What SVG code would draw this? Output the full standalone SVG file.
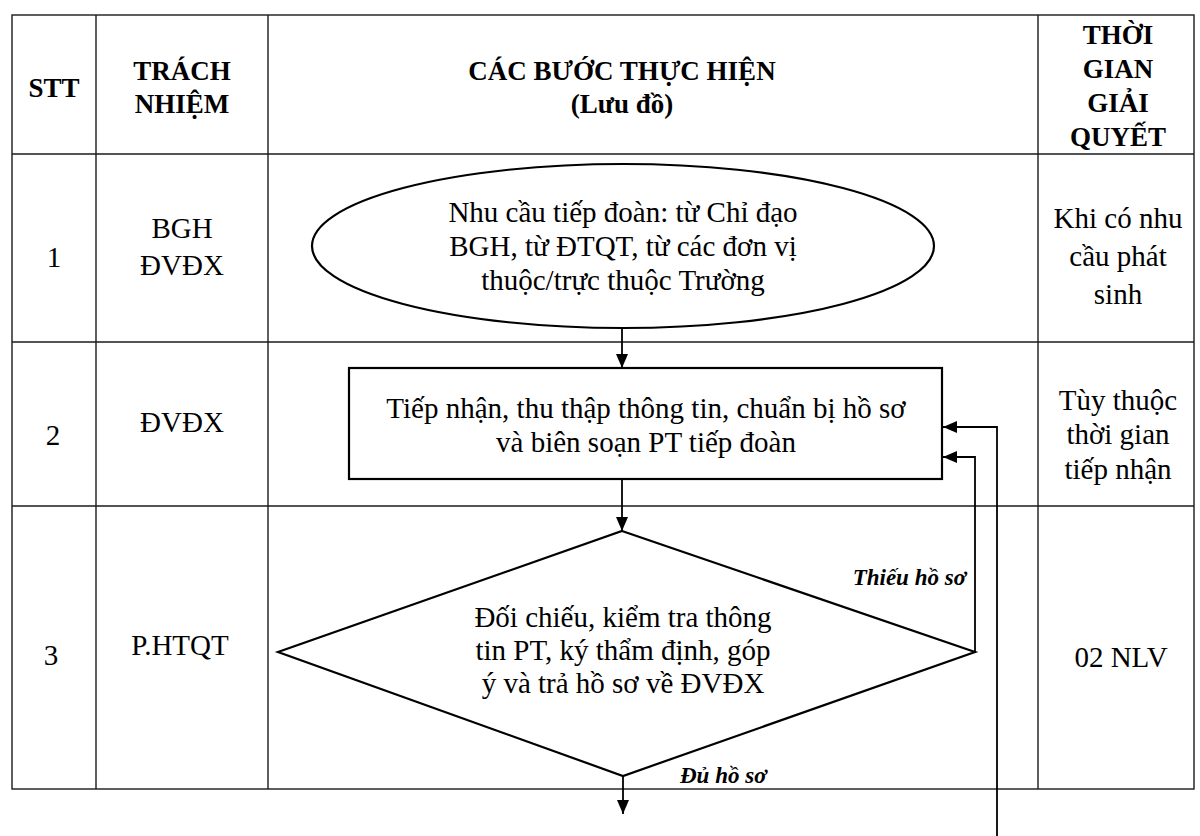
<svg xmlns="http://www.w3.org/2000/svg" width="1200" height="836" viewBox="0 0 1200 836">
  <defs>
    <marker id="ah" viewBox="0 0 14 12" refX="14" refY="6" markerWidth="14" markerHeight="12" markerUnits="userSpaceOnUse" orient="auto">
      <path d="M0,0 L14,6 L0,12 Z" fill="#000"/>
    </marker>
    <style>
      .grid { stroke: #1a1a1a; stroke-width: 1.4; fill: none; }
      .shape { stroke: #000; stroke-width: 2.2; fill: #fff; }
      .conn { stroke: #000; stroke-width: 1.8; fill: none; }
      .t { font-family: "Liberation Serif", "Times New Roman", serif; font-size: 29px; fill: #000; text-anchor: middle; }
      .h { font-family: "Liberation Serif", "Times New Roman", serif; font-size: 27px; font-weight: bold; fill: #000; text-anchor: middle; }
      .lbl { font-family: "Liberation Serif", "Times New Roman", serif; font-size: 23px; font-weight: bold; font-style: italic; fill: #000; }
    </style>
  </defs>
  <rect width="1200" height="836" fill="#fff"/>

  <g id="table">
    <rect class="grid" x="12" y="15" width="1182" height="774"/>
    <line class="grid" x1="96" y1="15" x2="96" y2="789"/>
    <line class="grid" x1="268" y1="15" x2="268" y2="789"/>
    <line class="grid" x1="1038" y1="15" x2="1038" y2="789"/>
    <line class="grid" x1="12" y1="154" x2="1194" y2="154"/>
    <line class="grid" x1="12" y1="342" x2="1194" y2="342"/>
    <line class="grid" x1="12" y1="506" x2="1194" y2="506"/>
  </g>

  <g id="header">
    <text class="h" x="54" y="97">STT</text>
    <text class="h" x="182" y="80">TRÁCH</text>
    <text class="h" x="182" y="113">NHIỆM</text>
    <text class="h" x="622" y="80">CÁC BƯỚC THỰC HIỆN</text>
    <text class="h" x="622" y="113">(Lưu đồ)</text>
    <text class="h" x="1118" y="44">THỜI</text>
    <text class="h" x="1118" y="78">GIAN</text>
    <text class="h" x="1118" y="112">GIẢI</text>
    <text class="h" x="1118" y="146">QUYẾT</text>
  </g>

  <g id="row1">
    <text class="t" x="54" y="267">1</text>
    <text class="t" x="182" y="238">BGH</text>
    <text class="t" x="182" y="275">ĐVĐX</text>
    <text class="t" x="1118" y="228">Khi có nhu</text>
    <text class="t" x="1118" y="266">cầu phát</text>
    <text class="t" x="1118" y="304">sinh</text>
  </g>
  <g id="row2">
    <text class="t" x="53" y="445">2</text>
    <text class="t" x="182" y="432">ĐVĐX</text>
    <text class="t" x="1118" y="410">Tùy thuộc</text>
    <text class="t" x="1118" y="444">thời gian</text>
    <text class="t" x="1118" y="479">tiếp nhận</text>
  </g>
  <g id="row3">
    <text class="t" x="51" y="665">3</text>
    <text class="t" x="180" y="655">P.HTQT</text>
    <text class="t" x="1121" y="667">02 NLV</text>
  </g>

  <g id="connectors">
    <line class="conn" x1="622" y1="328" x2="622" y2="368" marker-end="url(#ah)"/>
    <line class="conn" x1="622" y1="479" x2="622" y2="531" marker-end="url(#ah)"/>
    <line class="conn" x1="623" y1="776" x2="623" y2="814" marker-end="url(#ah)"/>
    <polyline class="conn" points="975,652 975,457 943,457" marker-end="url(#ah)"/>
    <polyline class="conn" points="997,836 997,427 943,427" marker-end="url(#ah)"/>
  </g>

  <g id="n1">
    <ellipse class="shape" cx="623" cy="246" rx="311" ry="82"/>
    <text class="t" x="623" y="222">Nhu cầu tiếp đoàn: từ Chỉ đạo</text>
    <text class="t" x="623" y="256">BGH, từ ĐTQT, từ các đơn vị</text>
    <text class="t" x="623" y="290">thuộc/trực thuộc Trường</text>
  </g>

  <g id="n2">
    <rect class="shape" x="349" y="368" width="593" height="111" stroke-width="2.6"/>
    <text class="t" x="646" y="418">Tiếp nhận, thu thập thông tin, chuẩn bị hồ sơ</text>
    <text class="t" x="646" y="452">và biên soạn PT tiếp đoàn</text>
  </g>

  <g id="n3">
    <polygon class="shape" points="622,531 975,652 623,776 278,652"/>
    <text class="t" x="623" y="627">Đối chiếu, kiểm tra thông</text>
    <text class="t" x="623" y="660">tin PT, ký thẩm định, góp</text>
    <text class="t" x="623" y="693">ý và trả hồ sơ về ĐVĐX</text>
  </g>

  <g id="labels">
    <text class="lbl" x="966" y="585" text-anchor="end">Thiếu hồ sơ</text>
    <text class="lbl" x="680" y="783">Đủ hồ sơ</text>
  </g>
</svg>
